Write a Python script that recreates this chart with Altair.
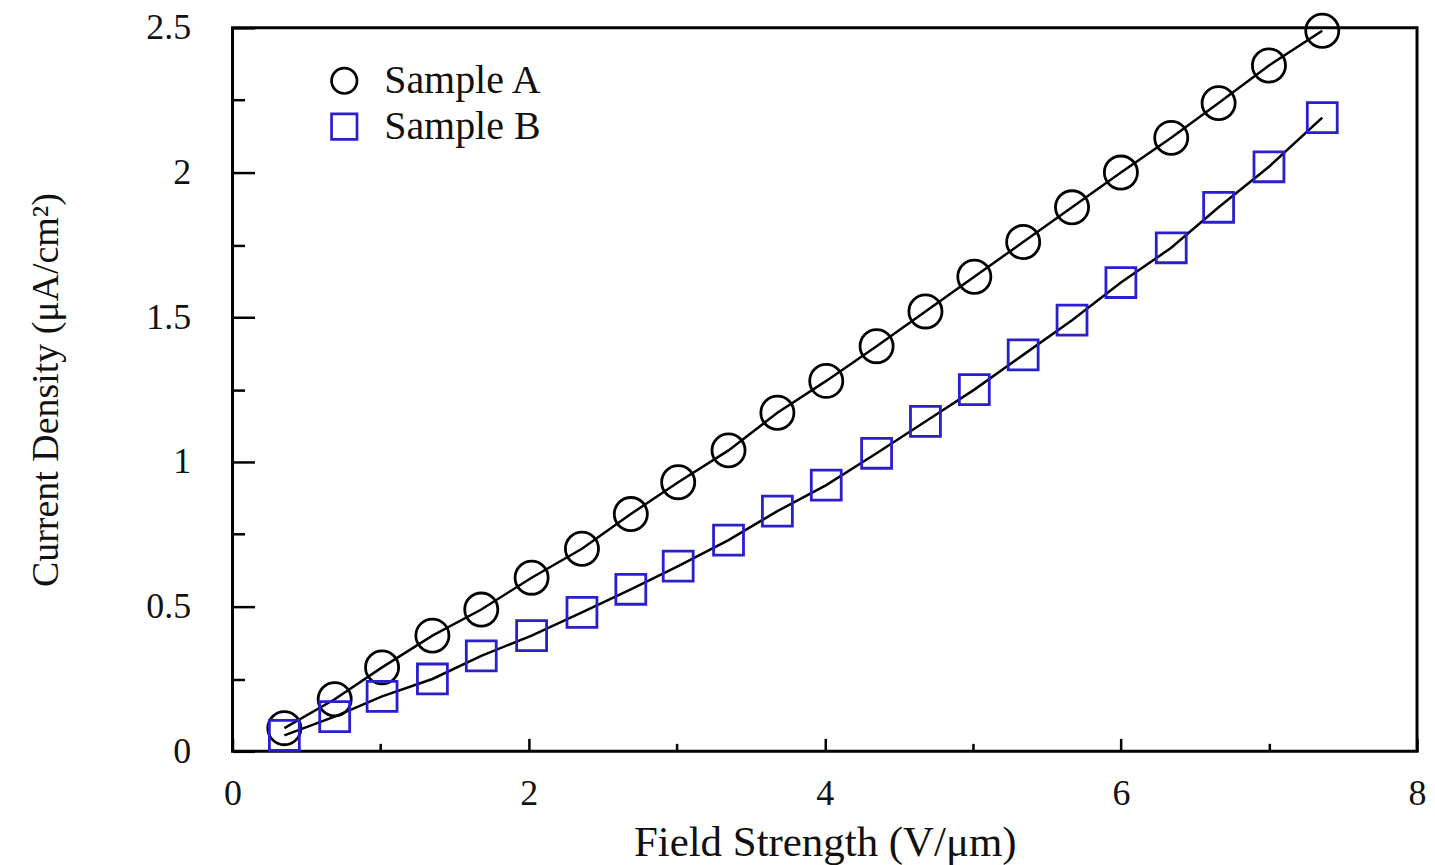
import altair as alt
import pandas as pd

field = [0.35, 0.69, 1.01, 1.35, 1.68, 2.02, 2.36, 2.69, 3.01, 3.35, 3.68,
         4.01, 4.35, 4.68, 5.01, 5.34, 5.67, 6.0, 6.34, 6.66, 7.0, 7.36]
sample_a = [0.08, 0.18, 0.29, 0.40, 0.49, 0.60, 0.70, 0.82, 0.93, 1.04, 1.17,
            1.28, 1.40, 1.52, 1.64, 1.76, 1.88, 2.00, 2.12, 2.24, 2.37, 2.49]
sample_b = [0.055, 0.12, 0.19, 0.25, 0.33, 0.40, 0.48, 0.56, 0.64, 0.73, 0.83,
            0.92, 1.03, 1.14, 1.25, 1.37, 1.49, 1.62, 1.74, 1.88, 2.02, 2.19]
series = ["Sample A", "Sample B"]
x_major = [0, 2, 4, 6, 8]
x_minor = [1, 3, 5, 7]
y_major = [0, 0.5, 1, 1.5, 2, 2.5]
y_minor = [0.25, 0.75, 1.25, 1.75, 2.25]

rows = []
for f, a, b in zip(field, sample_a, sample_b):
    rows.append({"field": f, "density": a, "sample": series[0]})
    rows.append({"field": f, "density": b, "sample": series[1]})
df = pd.DataFrame(rows)

W, H = 1187, 725
xs = alt.Scale(domain=[0, 8], nice=False, zero=False)
ys = alt.Scale(domain=[0, 2.5], nice=False, zero=False)
BLUE = "#2a1fcc"
FONT = "Liberation Serif"
TXT = "#111111"

main_x = alt.Axis(values=x_major, format="~g", ticks=False, domain=False, grid=False,
                  labelFont=FONT, labelFontSize=36, labelColor=TXT,
                  labelPadding=25, labelFlush=False,
                  title="Field Strength (V/\u03bcm)", titleFont=FONT, titleFontSize=43,
                  titleFontWeight="normal", titleColor=TXT, titlePadding=10)
main_y = alt.Axis(values=y_major, format="~g", ticks=False, domain=False, grid=False,
                  labelFont=FONT, labelFontSize=36, labelColor=TXT,
                  labelPadding=42, labelFlush=False,
                  title="Current Density (\u03bcA/cm\u00b2)", titleFont=FONT,
                  titleFontSize=38, titleFontWeight="normal", titleColor=TXT,
                  titlePadding=80)

lines = alt.Chart(df).mark_line(color="black", strokeWidth=2.5).encode(
    x=alt.X("field:Q", scale=xs, axis=main_x),
    y=alt.Y("density:Q", scale=ys, axis=main_y),
    detail="sample:N",
)

leg = dict(title=None, orient="none", legendX=92, legendY=33,
           labelFont=FONT, labelFontSize=40, labelColor=TXT, labelLimit=0,
           symbolSize=650, symbolStrokeWidth=2.7,
           labelOffset=20, rowPadding=6, symbolFillColor="transparent")
shape_enc = alt.Shape("sample:N", scale=alt.Scale(domain=series, range=["circle", "square"]),
                      legend=alt.Legend(**leg))
stroke_enc = alt.Stroke("sample:N", scale=alt.Scale(domain=series, range=["black", BLUE]),
                        legend=alt.Legend(**leg))

pts_a = alt.Chart(df).transform_filter(alt.datum.sample == series[0]).mark_point(
    filled=False, strokeWidth=2.8, size=1100, opacity=1).encode(
    x=alt.X("field:Q", scale=xs, axis=None),
    y=alt.Y("density:Q", scale=ys, axis=None),
    shape=shape_enc, stroke=stroke_enc,
)
pts_b = alt.Chart(df).transform_filter(alt.datum.sample == series[1]).mark_point(
    filled=False, strokeWidth=2.8, size=900, opacity=1).encode(
    x=alt.X("field:Q", scale=xs, axis=None),
    y=alt.Y("density:Q", scale=ys, axis=None),
    shape=shape_enc, stroke=stroke_enc,
)


def tick_layer(xv, yv, xlen, ylen):
    return alt.Chart(df).mark_point(opacity=0).encode(
        x=alt.X("field:Q", scale=xs, axis=alt.Axis(
            values=xv, labels=False, domain=False, grid=False, ticks=True,
            tickSize=xlen, offset=-xlen, tickColor="black", tickWidth=2.5,
            title=None, orient="bottom")),
        y=alt.Y("density:Q", scale=ys, axis=alt.Axis(
            values=yv, labels=False, domain=False, grid=False, ticks=True,
            tickSize=ylen, offset=-ylen, tickColor="black", tickWidth=2.5,
            title=None, orient="left")),
    )


major = tick_layer(x_major, y_major, 13, 22)
minor = tick_layer(x_minor, y_minor, 8, 12)

chart = alt.layer(lines, pts_a, pts_b, major, minor).resolve_axis(
    x="independent", y="independent"
).properties(
    width=W, height=H,
    autosize=alt.AutoSizeParams(type="none"),
    padding={"left": 225, "top": 19, "right": 10, "bottom": 113},
    background="white",
).configure_view(stroke="black", strokeWidth=3)

chart.save("out.html", embed_options={"renderer": "svg", "actions": False})
